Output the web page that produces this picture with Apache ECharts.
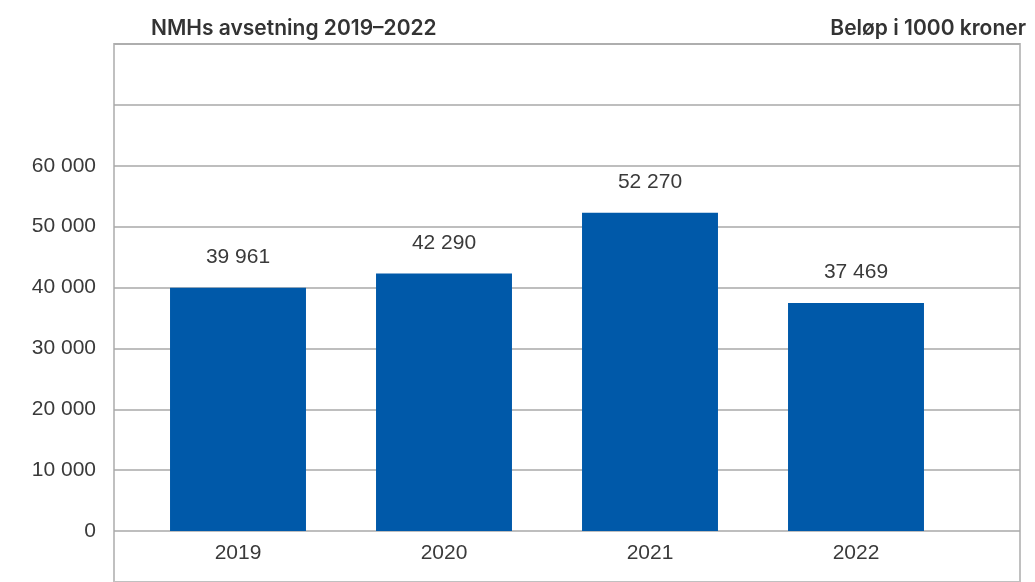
<!DOCTYPE html>
<html>
<head>
<meta charset="utf-8">
<script src="https://cdn.jsdelivr.net/npm/echarts@6/dist/echarts.min.js"></script>
<style>html,body{margin:0;padding:0;background:#fff}#c{width:1035px;height:582px}</style>
</head>
<body>
<div id="c"></div>
<script>
const categories = ['2019', '2020', '2021', '2022'];
const values = [39961, 42290, 52270, 37469];
const yTicksShown = [0, 10000, 20000, 30000, 40000, 50000, 60000];
const titleText = 'NMHs avsetning 2019–2022';
const unitText = 'Beløp i 1000 kroner';

function fmt(v) { return String(v).replace(/\B(?=(\d{3})+(?!\d))/g, ' '); }

const chart = echarts.init(document.getElementById('c'));
const labelFont = 'Liberation Sans, Arial, sans-serif';
chart.setOption({
  animation: false,
  backgroundColor: '#fff',
  title: [
    { text: titleText, left: 146, top: 13, textStyle: { fontFamily: 'Inter, sans-serif', fontWeight: 600, fontSize: 21, color: '#333' } },
    { text: unitText, right: 4, top: 13, textStyle: { fontFamily: 'Inter, sans-serif', fontWeight: 600, fontSize: 21, color: '#333' } }
  ],
  grid: [
    { left: 114, right: 15, top: 44, bottom: -20, show: true, borderColor: '#c0c0c0', borderWidth: 2, backgroundColor: 'transparent' },
    { left: 114, right: 15, top: 44, bottom: 51 },
    { left: 135, right: 76, top: 44, bottom: 51 }
  ],
  xAxis: [
    { gridIndex: 0, type: 'category', data: categories, show: false },
    { gridIndex: 1, type: 'category', data: categories, show: false },
    { gridIndex: 2, type: 'category', data: categories,
      axisLine: { show: false }, axisTick: { show: false },
      axisLabel: { fontFamily: labelFont, fontSize: 21, color: '#3a3a3a', margin: 12 } }
  ],
  yAxis: [
    { gridIndex: 0, type: 'value', show: false },
    { gridIndex: 1, type: 'value', min: 0, max: 80000, interval: 10000,
      axisLine: { show: false }, axisTick: { show: false },
      splitLine: { show: true, lineStyle: { color: '#a8a8a8', width: 1.5 } },
      axisLabel: { fontFamily: labelFont, fontSize: 21, color: '#3a3a3a', margin: 18,
        formatter: function (v) { return yTicksShown.indexOf(v) >= 0 ? fmt(v) : ''; } } },
    { gridIndex: 2, type: 'value', min: 0, max: 80000, interval: 10000, show: false, splitLine: { show: false } }
  ],
  series: [{
    type: 'bar', xAxisIndex: 2, yAxisIndex: 2, data: values, barWidth: '66%',
    itemStyle: { color: '#0059A9' },
    label: { show: true, position: 'top', distance: 20, fontFamily: labelFont, fontSize: 21, color: '#3a3a3a',
      formatter: function (p) { return fmt(p.value); } }
  }]
});
</script>
</body>
</html>
